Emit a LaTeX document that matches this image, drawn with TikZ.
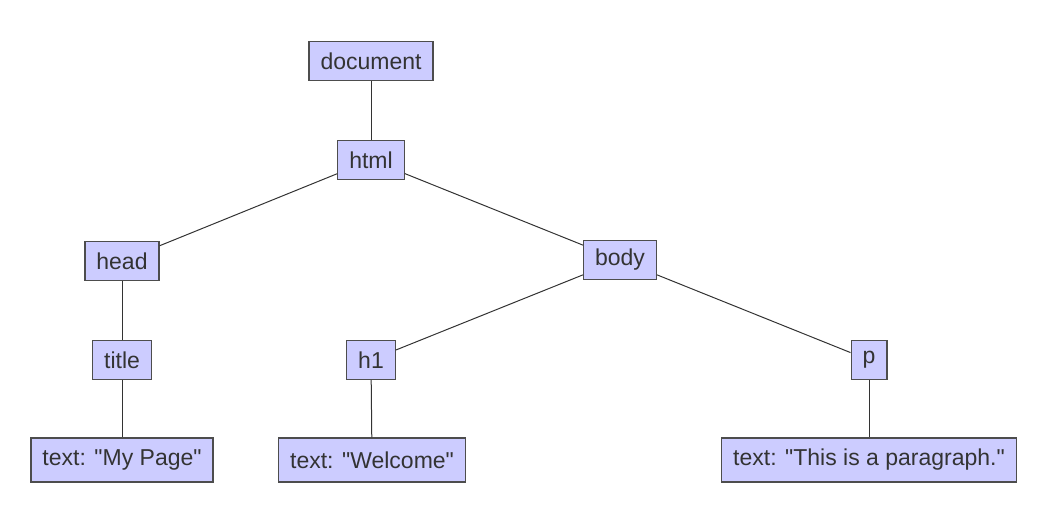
\documentclass[tikz,border=0pt]{standalone}
\usepackage{fontspec}
\newfontfamily\lsans{Liberation Sans}
\usepackage{xcolor}
\usetikzlibrary{positioning}
\definecolor{boxfill}{HTML}{CCCCFF}
\definecolor{boxline}{HTML}{4D4D4D}
\definecolor{txtgray}{HTML}{333333}

\begin{document}
\begin{tikzpicture}[
  x=1pt, y=-1pt,
  font=\lsans\fontsize{23}{27}\selectfont, text=txtgray,
  el/.style={draw=boxline, line width=1.2pt, fill=boxfill, inner xsep=11.5pt, minimum height=39pt},
  tx/.style={el, minimum height=44pt},
  edge/.style={draw=txtgray, line width=1pt}
]
\useasboundingbox (0,0) rectangle (1041,511);
\node[el] (doc) at (371,61) {document};
\node[el] (html) at (371,160) {html};
\node[el] (head) at (122,261) {head};
\node[el] (body) at (620,260) {body};
\node[el] (title) at (122,360) {title};
\node[el] (h1) at (371,360) {h1};
\node[el] (p) at (869,360) {p};
\node[tx] (t1) at (122,460) {text: "My Page"};
\node[tx] (t2) at (372,460) {text: "Welcome"};
\node[tx] (t3) at (869,460) {text: "This is a paragraph."};
\draw[edge] (doc)--(html); \draw[edge] (html)--(head); \draw[edge] (html)--(body);
\draw[edge] (head)--(title); \draw[edge] (title)--(t1);
\draw[edge] (body)--(h1); \draw[edge] (body)--(p);
\draw[edge] (h1)--(t2); \draw[edge] (p)--(t3);
\end{tikzpicture}
\end{document}
